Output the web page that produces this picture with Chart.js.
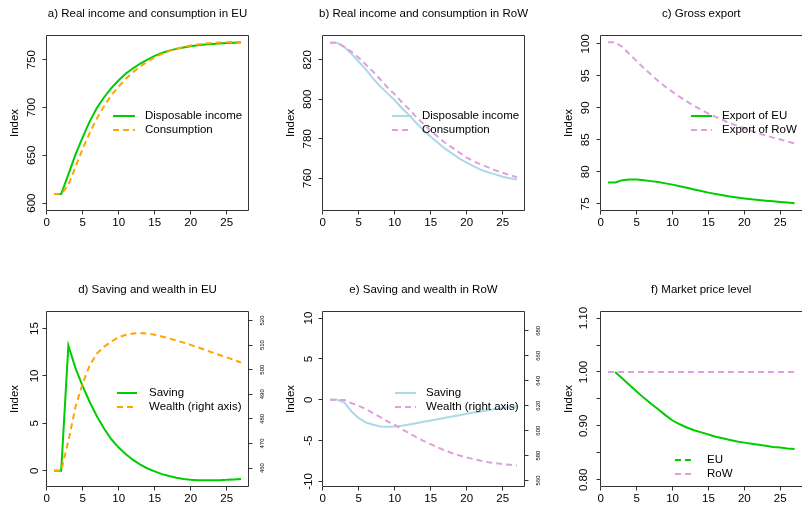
<!DOCTYPE html>
<html>
<head>
<meta charset="utf-8">
<script src="https://cdn.jsdelivr.net/npm/chart.js@4.4.1/dist/chart.umd.min.js"></script>
<style>
  html, body { margin: 0; padding: 0; background: #fff; }
  #wrap { position: relative; width: 802px; height: 505px; overflow: hidden; }
  #wrap canvas { position: absolute; left: 0; top: 0; }
</style>
</head>
<body>
<div id="wrap">
  <canvas id="pa" width="802" height="505"></canvas>
  <canvas id="pb" width="802" height="505"></canvas>
  <canvas id="pc" width="802" height="505"></canvas>
  <canvas id="pd" width="802" height="505"></canvas>
  <canvas id="pe" width="802" height="505"></canvas>
  <canvas id="pf" width="802" height="505"></canvas>
</div>
<script>
// periods on the x axis
const periods = [1, 2, 3, 4, 5, 6, 7, 8, 9, 10, 11, 12, 13, 14, 15, 16, 17, 18, 19, 20, 21, 22, 23, 24, 25, 26, 27];
const xTicks = [0, 5, 10, 15, 20, 25];

// a) real income and consumption in EU
const euIncome      = [609.5, 609.5, 630, 651, 669, 686, 700, 711, 720.5, 728.5, 735.5, 741, 746, 750, 754, 757, 759.5, 761.3, 762.8, 764, 765, 765.8, 766.5, 767, 767.4, 767.7, 768];
const euConsumption = [609.5, 609.5, 619, 638, 657, 674, 689, 702, 713, 722, 730, 737, 743, 748, 752.5, 756, 759, 761.5, 763.3, 764.8, 766, 766.8, 767.5, 768, 768.3, 768.5, 768.6];
const euIncomeTicks = [600, 650, 700, 750];

// b) real income and consumption in RoW
const rowIncome      = [828.6, 828.6, 826.5, 823, 819, 815, 810.5, 806.5, 803, 799.5, 795.5, 792, 788, 784.5, 781, 778, 775, 772.5, 770, 768, 766, 764.3, 763, 762, 760.8, 760, 759.4];
const rowConsumption = [828.6, 828.6, 826.5, 824, 821, 817.5, 814, 810, 806, 802.5, 798.5, 795, 791, 787.5, 784, 781, 778, 775.5, 773, 770.5, 768.5, 767, 765.5, 764, 762.8, 761.6, 760.6];
const rowIncomeTicks = [760, 780, 800, 820];

// c) gross export
const exportEu  = [78.35, 78.35, 78.7, 78.8, 78.8, 78.7, 78.55, 78.4, 78.2, 78.0, 77.75, 77.5, 77.25, 77.0, 76.75, 76.55, 76.35, 76.15, 76.0, 75.85, 75.7, 75.6, 75.5, 75.4, 75.3, 75.2, 75.1];
const exportRow = [100.25, 100.25, 99.5, 98.4, 97.3, 96.2, 95.2, 94.2, 93.3, 92.5, 91.7, 91.0, 90.3, 89.7, 89.1, 88.6, 88.1, 87.6, 87.2, 86.8, 86.4, 86.0, 85.7, 85.35, 85.05, 84.75, 84.45];
const exportTicks = [75, 80, 85, 90, 95, 100];

// d) saving and wealth in EU
const euSaving = [0, 0, 13.2, 10.8, 8.9, 7.2, 5.7, 4.4, 3.3, 2.45, 1.75, 1.15, 0.65, 0.25, -0.05, -0.35, -0.55, -0.72, -0.85, -0.95, -1.0, -1.0, -1.0, -0.98, -0.95, -0.9, -0.85];
const euWealth = [458.9, 458.9, 471, 485, 494.5, 502, 506.7, 509.4, 511.5, 513.2, 514.2, 514.7, 514.9, 514.7, 514.2, 513.5, 512.7, 511.9, 511.0, 510.1, 509.1, 508.1, 507.0, 506.0, 505.0, 504.0, 502.9];
const euSavingTicks = [0, 5, 10, 15];
const euWealthTicks = [460, 470, 480, 490, 500, 510, 520];

// e) saving and wealth in RoW
const rowSaving = [0, 0, -0.33, -1.43, -2.24, -2.78, -3.06, -3.27, -3.31, -3.27, -3.18, -3.02, -2.86, -2.69, -2.53, -2.37, -2.2, -2.04, -1.88, -1.71, -1.55, -1.43, -1.27, -1.14, -1.02, -0.9, -0.78];
const rowWealth = [624.7, 624.7, 624.5, 622, 619.9, 617.2, 614, 610.8, 607.3, 604.6, 601.2, 598, 594.7, 591.8, 589.1, 586.5, 584, 581.9, 580, 578.4, 577.1, 575.8, 574.7, 573.9, 573.1, 572.6, 572];
const rowSavingTicks = [-10, -5, 0, 5, 10];
const rowWealthTicks = [560, 580, 600, 620, 640, 660, 680];

// f) market price level
const euPrice  = [null, 1.0, 0.988, 0.976, 0.964, 0.952, 0.941, 0.931, 0.92, 0.91, 0.903, 0.897, 0.892, 0.888, 0.884, 0.88, 0.877, 0.874, 0.871, 0.869, 0.867, 0.865, 0.863, 0.861, 0.86, 0.858, 0.857];
const rowPrice = [1, 1, 1, 1, 1, 1, 1, 1, 1, 1, 1, 1, 1, 1, 1, 1, 1, 1, 1, 1, 1, 1, 1, 1, 1, 1, 1];
const priceTicks  = [0.80, 0.85, 0.90, 0.95, 1.00, 1.05, 1.10];
const priceLabels = ['0.80', '', '0.90', '', '1.00', '', '1.10'];

const GREEN = '#00cd00';
const ORANGE = '#ffa500';
const LIGHTBLUE = '#add8e6';
const PLUM = '#dda0dd';
const DASH = [6, 4];

Chart.defaults.font.family = '"Liberation Sans", Arial, sans-serif';
Chart.defaults.color = '#000';

// box around the plot, title above it and an R-style legend
const framePlugin = {
  id: 'frame',
  afterDraw(chart, args, opts) {
    const { ctx, chartArea: a } = chart;
    ctx.save();
    ctx.strokeStyle = '#333';
    ctx.lineWidth = 1;
    ctx.beginPath();
    ctx.moveTo(a.right, a.top);
    ctx.lineTo(a.left, a.top);
    ctx.lineTo(a.left, a.bottom);
    ctx.lineTo(a.right, a.bottom);
    // right edge falls off the page for the last column
    if (a.right < chart.width - 1) ctx.lineTo(a.right, a.top);
    ctx.stroke();

    ctx.fillStyle = '#000';
    ctx.font = '11.5px "Liberation Sans", Arial, sans-serif';
    ctx.textAlign = 'center';
    ctx.textBaseline = 'middle';
    ctx.fillText(opts.title, (a.left + a.right) / 2, a.top - 21.5);

    const lg = opts.legend;
    ctx.textAlign = 'left';
    chart.data.datasets.forEach((ds, i) => {
      const y = lg.y + i * 14;
      ctx.beginPath();
      ctx.setLineDash(ds.legendDash);
      ctx.strokeStyle = ds.borderColor;
      ctx.lineWidth = 2;
      ctx.moveTo(lg.x1, y);
      ctx.lineTo(lg.x2, y);
      ctx.stroke();
      ctx.setLineDash([]);
      ctx.fillText(ds.label, lg.tx, y);
    });
    ctx.restore();
  }
};

function tickGrid() {
  return { drawOnChartArea: false, drawTicks: true, tickLength: 4, tickColor: '#333', tickWidth: 1 };
}

function leftAxis(ax) {
  return {
    type: 'linear', position: 'left', min: ax.min, max: ax.max,
    afterBuildTicks: s => { s.ticks = ax.ticks.map(v => ({ value: v })); },
    afterFit: s => { s.width = 46; },
    ticks: {
      font: { size: 11.5 }, color: '#000', minRotation: 90, maxRotation: 90,
      crossAlign: 'center', padding: 1, autoSkip: false,
      callback: (v, i) => ax.labels ? ax.labels[i] : String(v)
    },
    grid: tickGrid(),
    border: { display: false },
    title: { display: true, text: 'Index', font: { size: 11.5 }, color: '#000', padding: { top: 7, bottom: 0 } }
  };
}

function rightAxis(ax) {
  return {
    type: 'linear', position: 'right', min: ax.min, max: ax.max,
    afterBuildTicks: s => { s.ticks = ax.ticks.map(v => ({ value: v })); },
    afterFit: s => { s.width = 20; },
    ticks: {
      font: { size: 6 }, color: '#000', minRotation: 90, maxRotation: 90,
      crossAlign: 'center', padding: 5, autoSkip: false,
      callback: v => String(v)
    },
    grid: tickGrid(),
    border: { display: false }
  };
}

function makePanel(id, p) {
  const scales = {
    x: {
      type: 'linear', min: -0.04, max: 28.04,
      afterBuildTicks: s => { s.ticks = xTicks.map(v => ({ value: v })); },
      afterFit: s => { s.height = 20; },
      ticks: { font: { size: 11.5 }, color: '#000', padding: 1, maxRotation: 0, minRotation: 0, autoSkip: false },
      grid: tickGrid(),
      border: { display: false }
    },
    y: leftAxis(p.y)
  };
  if (p.y2) scales.y2 = rightAxis(p.y2);

  const datasets = p.series.map((s, i) => ({
    label: s.label,
    data: s.data,
    yAxisID: s.axis || 'y',
    borderColor: s.color,
    backgroundColor: s.color,
    borderWidth: 2,
    borderDash: s.dash,
    legendDash: s.legendDash,
    pointRadius: 0,
    tension: 0,
    fill: false,
    order: p.series.length - i
  }));

  const b = p.box;
  new Chart(document.getElementById(id), {
    type: 'line',
    data: { labels: periods, datasets },
    options: {
      responsive: false,
      animation: false,
      layout: {
        padding: {
          left: b.l - 46,
          top: b.t,
          right: 802 - b.r - (p.y2 ? 20 : 0),
          bottom: 505 - b.b - 20
        }
      },
      plugins: {
        legend: { display: false },
        tooltip: { enabled: false },
        frame: { title: p.title, legend: p.legend }
      },
      scales
    },
    plugins: [framePlugin]
  });
}

makePanel('pa', {
  title: 'a) Real income and consumption in EU',
  box: { l: 46.5, t: 35.5, r: 248.5, b: 210.5 },
  y: { min: 592.3, max: 775.3, ticks: euIncomeTicks },
  legend: { x1: 113, x2: 135, tx: 145, y: 116 },
  series: [
    { label: 'Disposable income', data: euIncome, color: GREEN, dash: [], legendDash: [] },
    { label: 'Consumption', data: euConsumption, color: ORANGE, dash: DASH, legendDash: DASH }
  ]
});

makePanel('pb', {
  title: 'b) Real income and consumption in RoW',
  box: { l: 322.5, t: 35.5, r: 524.5, b: 210.5 },
  y: { min: 743.7, max: 832.3, ticks: rowIncomeTicks },
  legend: { x1: 392, x2: 412, tx: 422, y: 116 },
  series: [
    { label: 'Disposable income', data: rowIncome, color: LIGHTBLUE, dash: [], legendDash: [] },
    { label: 'Consumption', data: rowConsumption, color: PLUM, dash: DASH, legendDash: DASH }
  ]
});

makePanel('pc', {
  title: 'c) Gross export',
  box: { l: 600.5, t: 35.5, r: 802.5, b: 210.5 },
  y: { min: 73.96, max: 101.3, ticks: exportTicks },
  legend: { x1: 691, x2: 712, tx: 722, y: 116 },
  series: [
    { label: 'Export of EU', data: exportEu, color: GREEN, dash: [], legendDash: [] },
    { label: 'Export of RoW', data: exportRow, color: PLUM, dash: DASH, legendDash: DASH }
  ]
});

makePanel('pd', {
  title: 'd) Saving and wealth in EU',
  box: { l: 46.5, t: 311.5, r: 248.5, b: 486.5 },
  y: { min: -1.65, max: 16.79, ticks: euSavingTicks },
  y2: { min: 452.5, max: 523.66, ticks: euWealthTicks },
  legend: { x1: 117, x2: 137, tx: 149, y: 393 },
  series: [
    { label: 'Saving', data: euSaving, color: GREEN, dash: [], legendDash: [] },
    { label: 'Wealth (right axis)', data: euWealth, axis: 'y2', color: ORANGE, dash: DASH, legendDash: DASH }
  ]
});

makePanel('pe', {
  title: 'e) Saving and wealth in RoW',
  box: { l: 322.5, t: 311.5, r: 524.5, b: 486.5 },
  y: { min: -10.61, max: 10.81, ticks: rowSavingTicks },
  y2: { min: 555.2, max: 695.5, ticks: rowWealthTicks },
  legend: { x1: 395, x2: 416, tx: 426, y: 393 },
  series: [
    { label: 'Saving', data: rowSaving, color: LIGHTBLUE, dash: [], legendDash: [] },
    { label: 'Wealth (right axis)', data: rowWealth, axis: 'y2', color: PLUM, dash: DASH, legendDash: DASH }
  ]
});

makePanel('pf', {
  title: 'f) Market price level',
  box: { l: 600.5, t: 311.5, r: 802.5, b: 486.5 },
  y: { min: 0.7876, max: 1.1122, ticks: priceTicks, labels: priceLabels },
  legend: { x1: 675, x2: 692, tx: 707, y: 460 },
  series: [
    { label: 'EU', data: euPrice, color: GREEN, dash: [], legendDash: DASH },
    { label: 'RoW', data: rowPrice, color: PLUM, dash: DASH, legendDash: DASH }
  ]
});
</script>
</body>
</html>
